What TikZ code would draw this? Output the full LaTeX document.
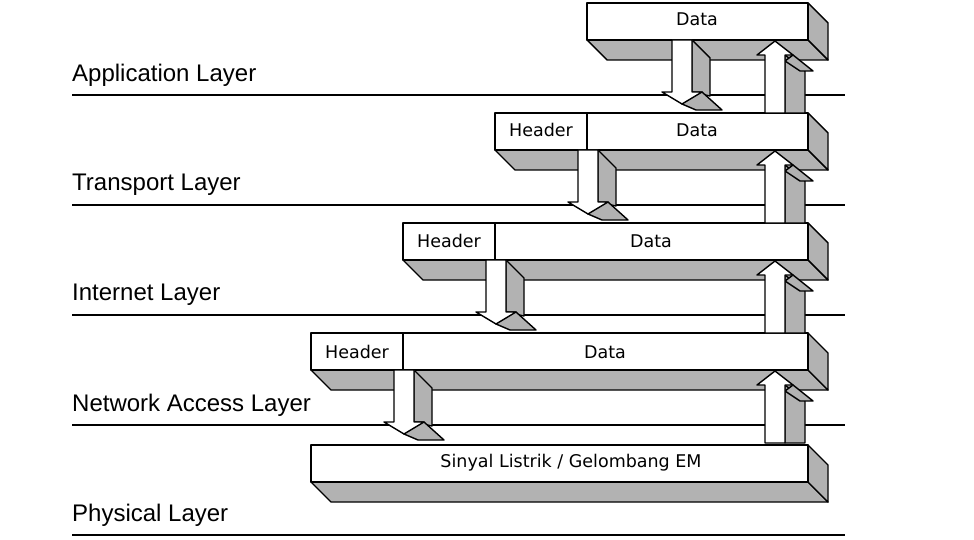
\documentclass[tikz,border=0pt]{standalone}
\usepackage{fontspec}
\setmainfont{Liberation Sans}
\newfontfamily\boxfont{DejaVu Sans}
\begin{document}
\begin{tikzpicture}[x=1pt,y=-1pt,
  face/.style={draw=black,line width=1.4pt,fill=white,line join=round},
  shade/.style={draw=black,line width=1.4pt,fill=black!30,line join=round},
  lay/.style={anchor=west,font=\fontsize{24}{28}\selectfont,inner sep=0pt},
  bt/.style={font=\boxfont\fontsize{17.5}{20}\selectfont}]
\useasboundingbox[fill=white] (0,0) rectangle (974,540);
% layer lines and labels
\foreach \y/\t [count=\i] in {95/Application Layer,205/Transport Layer,315/Internet Layer,425/Network Access Layer,535/Physical Layer}{
  \draw[line width=1.2pt] (72,\y) -- (845,\y);
  \node[lay] (L\i) at (72,\y-20) {\t};
}
% boxes: left, top
\foreach \xl/\yt [count=\i] in {587/3,495/113,403/223,311/333,311/445}{
  \pgfmathsetmacro\yb{\yt+37}
  \draw[shade] (\xl,\yb) -- (808,\yb) -- (828,\yb+20) -- (\xl+20,\yb+20) -- cycle;
  \draw[shade] (808,\yt) -- (828,\yt+20) -- (828,\yb+20) -- (808,\yb) -- cycle;
  \draw[face] (\xl,\yt) rectangle (808,\yb);
}
% down arrows: shaft left x, top y
\foreach \xs/\yt in {672/40,578/150,486/260,394/370}{
  \pgfmathsetmacro\yh{\yt+52}
  \draw[shade] (\xs+20,\yt) -- (\xs+38,\yt+18) -- (\xs+38,\yh+4) -- (\xs+20,\yh) -- cycle;
  \draw[shade] (\xs+20,\yh) -- (\xs+30,\yh) -- (\xs+50,\yh+18) -- (\xs+24,\yh+18) -- (\xs+10,\yh+12) -- cycle;
  \draw[face] (\xs,\yt) -- (\xs+20,\yt) -- (\xs+20,\yh) -- (\xs+30,\yh) -- (\xs+10,\yh+12) -- (\xs-10,\yh) -- (\xs,\yh) -- cycle;
}
% up arrows
\foreach \yt in {41,151,261,371}{
  \pgfmathsetmacro\yb{\yt+72}
  \draw[shade] (785,\yt+14) -- (805,\yt+30) -- (805,\yb) -- (785,\yb) -- cycle;
  \draw[shade] (793,\yt+14) -- (813,\yt+30) -- (800,\yt+30) -- (785,\yt+20) -- cycle;
  \draw[face] (765,\yb) -- (765,\yt+14) -- (757,\yt+14) -- (775,\yt) -- (793,\yt+14) -- (785,\yt+14) -- (785,\yb) -- cycle;
}
% box texts and dividers
\draw[line width=1.4pt] (587,113) -- (587,150) (495,223) -- (495,260) (403,333) -- (403,370);
\node[bt] (d1) at (697,19) {Data};
\node[bt] (h2) at (541,130) {Header};
\node[bt] (d2) at (697,130) {Data};
\node[bt] (h3) at (449,241) {Header};
\node[bt] (d3) at (651,241) {Data};
\node[bt] (h4) at (357,352) {Header};
\node[bt] (d4) at (605,352) {Data};
\node[bt] (s5) at (571,463) {Sinyal Listrik / Gelombang EM};
\end{tikzpicture}
\end{document}
